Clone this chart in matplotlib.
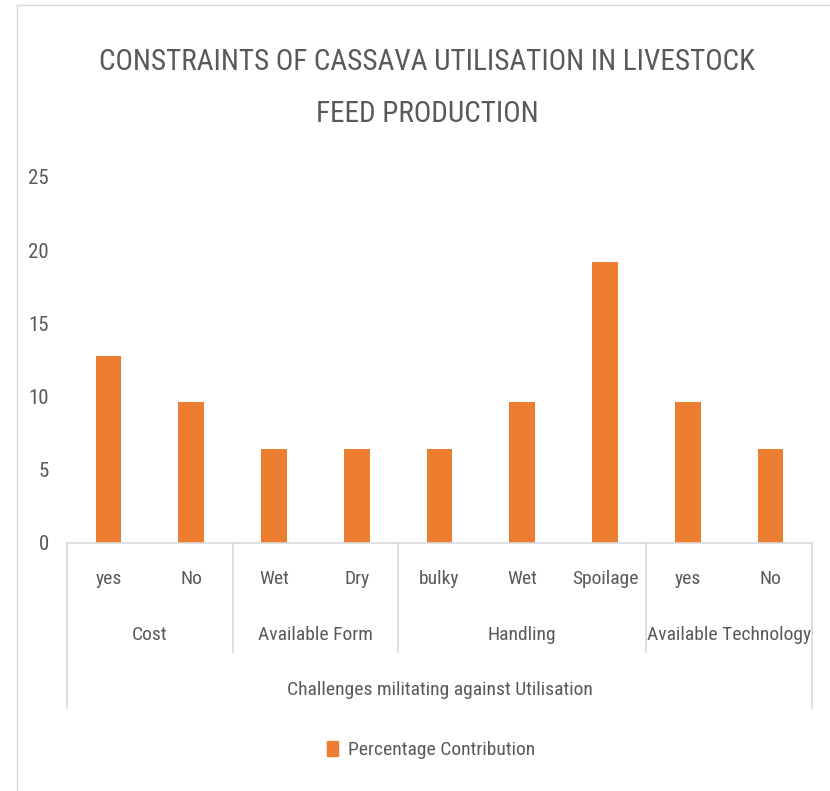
import matplotlib.pyplot as plt
import matplotlib.transforms as mtransforms
from matplotlib.lines import Line2D
from matplotlib.patches import Patch

# data
sub_labels = ["yes", "No", "Wet", "Dry", "bulky", "Wet", "Spoilage", "yes", "No"]
groups = ["Cost", "Available Form", "Handling", "Available Technology"]
group_sizes = [2, 2, 3, 2]
values = [12.8, 9.6, 6.4, 6.4, 6.4, 9.6, 19.2, 9.6, 6.4]
outer_label = "Challenges militating against Utilisation"
series_name = "Percentage Contribution"
title = "CONSTRAINTS OF CASSAVA UTILISATION IN LIVESTOCK\nFEED PRODUCTION"

plt.rcParams["font.family"] = ["Roboto Condensed", "DejaVu Sans"]

txt = "#595959"
line_c = "#D9D9D9"
bar_c = "#ED7D31"
fs = 14

fig = plt.figure(figsize=(8.3, 7.91), dpi=100)
ax = fig.add_axes([67 / 830, 1 - 543 / 791, (812 - 67) / 830, (543 - 177) / 791])

x = list(range(len(values)))
ax.bar(x, values, width=0.31, color=bar_c, zorder=2)
ax.set_xlim(-0.5, len(values) - 0.5)
ax.set_ylim(0, 25)
ax.set_yticks([0, 5, 10, 15, 20, 25])
ax.tick_params(axis="y", length=0, labelsize=fs + 1, labelcolor=txt, pad=13)
ax.set_xticks([])
for s in ["left", "right", "top"]:
    ax.spines[s].set_visible(False)
ax.spines["bottom"].set_color(line_c)
ax.spines["bottom"].set_linewidth(1.2)

tr = mtransforms.blended_transform_factory(ax.transData, fig.transFigure)
y_axis = 1 - 543 / 791
y_lvl1 = 1 - 579 / 791
y_lvl2 = 1 - 635 / 791
y_lvl3 = 1 - 690 / 791
y_div = 1 - 652 / 791
y_out = 1 - 708 / 791

for i, lab in enumerate(sub_labels):
    ax.text(i, y_lvl1, lab, transform=tr, ha="center", va="center", fontsize=fs, color=txt)

start = -0.5
bounds = [start]
for g, n in zip(groups, group_sizes):
    end = start + n
    ax.text((start + end) / 2, y_lvl2, g, transform=tr, ha="center", va="center", fontsize=fs, color=txt)
    bounds.append(end)
    start = end

for b in bounds:
    bottom = y_out if b in (bounds[0], bounds[-1]) else y_div
    ax.add_line(Line2D([b, b], [y_axis, bottom], transform=tr, color=line_c, lw=1.2, clip_on=False))

ax.text((bounds[0] + bounds[-1]) / 2, y_lvl3, outer_label, transform=tr, ha="center", va="center",
        fontsize=fs, color=txt)

fig.text(427 / 830, 1 - 88 / 791, title, ha="center", va="center", fontsize=21, color=txt,
         linespacing=2.1)

fig.legend(handles=[Patch(color=bar_c, label=series_name)], loc="center", bbox_to_anchor=(431 / 830, 1 - 750 / 791),
           frameon=False, fontsize=fs, labelcolor=txt, handlelength=0.55, handleheight=0.8, handletextpad=0.5)

# chart border
fig.add_artist(Line2D([17 / 830, 17 / 830], [0, 1 - 5 / 791], transform=fig.transFigure, color=line_c, lw=1))
fig.add_artist(Line2D([17 / 830, 1], [1 - 5 / 791, 1 - 5 / 791], transform=fig.transFigure, color=line_c, lw=1))

fig.savefig("out.png", dpi=100, facecolor="white")
